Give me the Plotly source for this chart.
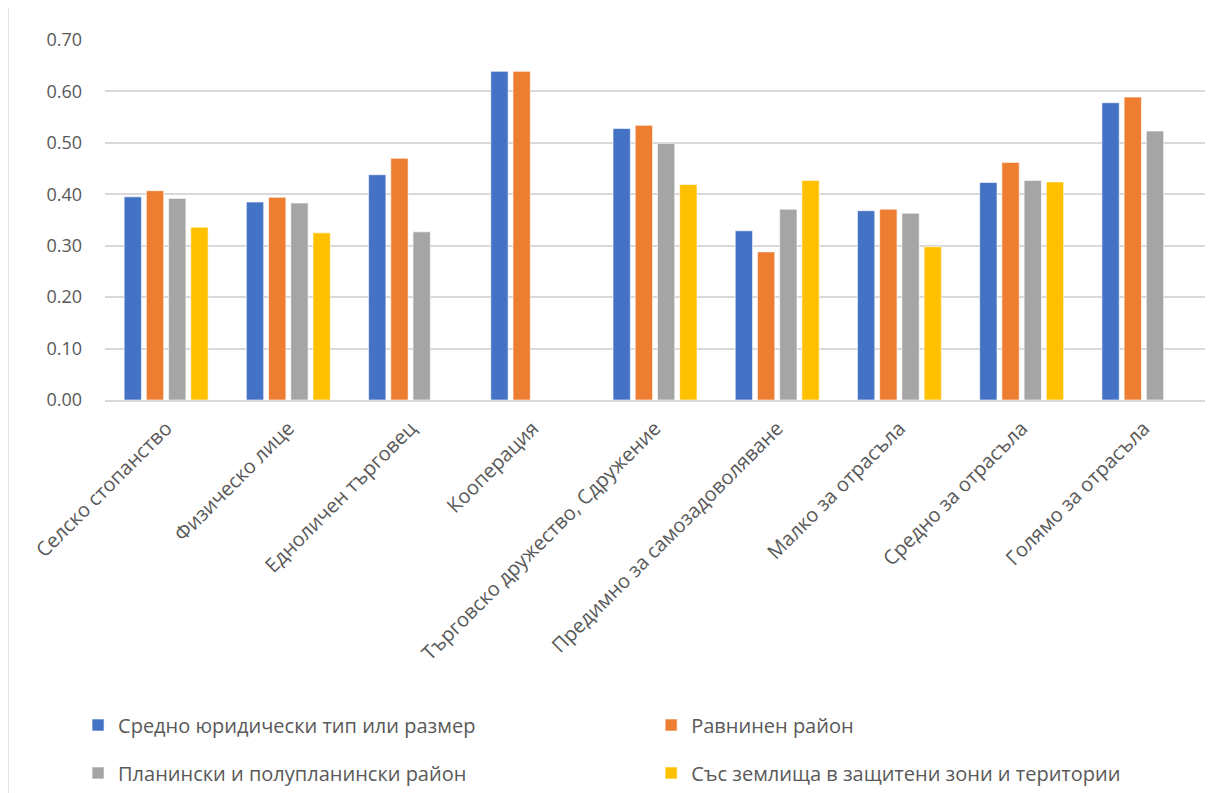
import plotly.graph_objects as go

categories = ["Селско стопанство", "Физическо лице", "Едноличен търговец", "Кооперация",
              "Търговско дружество, Сдружение", "Предимно за самозадоволяване",
              "Малко за отрасъла", "Средно за отрасъла", "Голямо за отрасъла"]

series_names = ["Средно юридически тип или размер", "Равнинен район",
                "Планински и полупланински район", "Със землища в защитени зони и територии"]

avg_type = [0.395, 0.385, 0.438, 0.639, 0.528, 0.329, 0.368, 0.423, 0.578]
plain = [0.407, 0.394, 0.470, 0.639, 0.534, 0.288, 0.371, 0.462, 0.589]
mountain = [0.392, 0.383, 0.327, None, 0.499, 0.371, 0.363, 0.427, 0.523]
protected = [0.336, 0.325, None, None, 0.419, 0.427, 0.298, 0.424, None]

colors = ["#4472C4", "#ED7D31", "#A5A5A5", "#FFC000"]
values = [avg_type, plain, mountain, protected]
legend_ids = ["legend", "legend2", "legend3", "legend4"]

font_family = "Open Sans, Noto Sans, sans-serif"
text_color = "#595959"

fig = go.Figure()
for name, vals, col, lg in zip(series_names, values, colors, legend_ids):
    fig.add_trace(go.Bar(
        x=categories, y=vals, name=name, legend=lg,
        marker=dict(color=col, line=dict(color="rgba(255,255,255,0.6)", width=1)),
    ))

# legend placement (paper coords): two columns, two rows below the chart
col_x = [-0.0245, 0.4965]
row_y = [-0.9028, -1.036]
legend_pos = [(col_x[0], row_y[0]), (col_x[1], row_y[0]),
              (col_x[0], row_y[1]), (col_x[1], row_y[1])]

legend_layout = {}
for lg, (lx, ly) in zip(legend_ids, legend_pos):
    legend_layout[lg] = dict(
        orientation="h", x=lx, y=ly, xanchor="left", yanchor="middle",
        itemwidth=30, font=dict(size=20, color=text_color),
        bgcolor="rgba(0,0,0,0)", itemclick=False,
    )

fig.update_layout(
    width=1212, height=785,
    margin=dict(l=97, r=15, t=32, b=393, autoexpand=False),
    paper_bgcolor="white", plot_bgcolor="white",
    barmode="group", bargap=0.273, bargroupgap=0.22,
    font=dict(family=font_family, color=text_color, size=19),
    showlegend=True,
    xaxis=dict(
        tickangle=-45, showgrid=False, showline=True, linecolor="#D9D9D9", linewidth=1.5,
        ticks="", tickfont=dict(size=20, color=text_color), automargin=False,
        ticklabelstandoff=7,
    ),
    yaxis=dict(
        range=[0, 0.7], dtick=0.1, tickformat=".2f", showgrid=True,
        gridcolor="#D9D9D9", gridwidth=1.5, zeroline=False, showline=False,
        ticks="", ticklabelstandoff=22, tickfont=dict(size=18, color=text_color),
        automargin=False,
    ),
    shapes=[dict(type="line", xref="paper", yref="paper",
                 x0=-0.0882, x1=-0.0882, y0=1.12, y1=-1.1,
                 line=dict(color="#D9D9D9", width=1.5))],
    **legend_layout,
)

fig.write_html("out.html")
